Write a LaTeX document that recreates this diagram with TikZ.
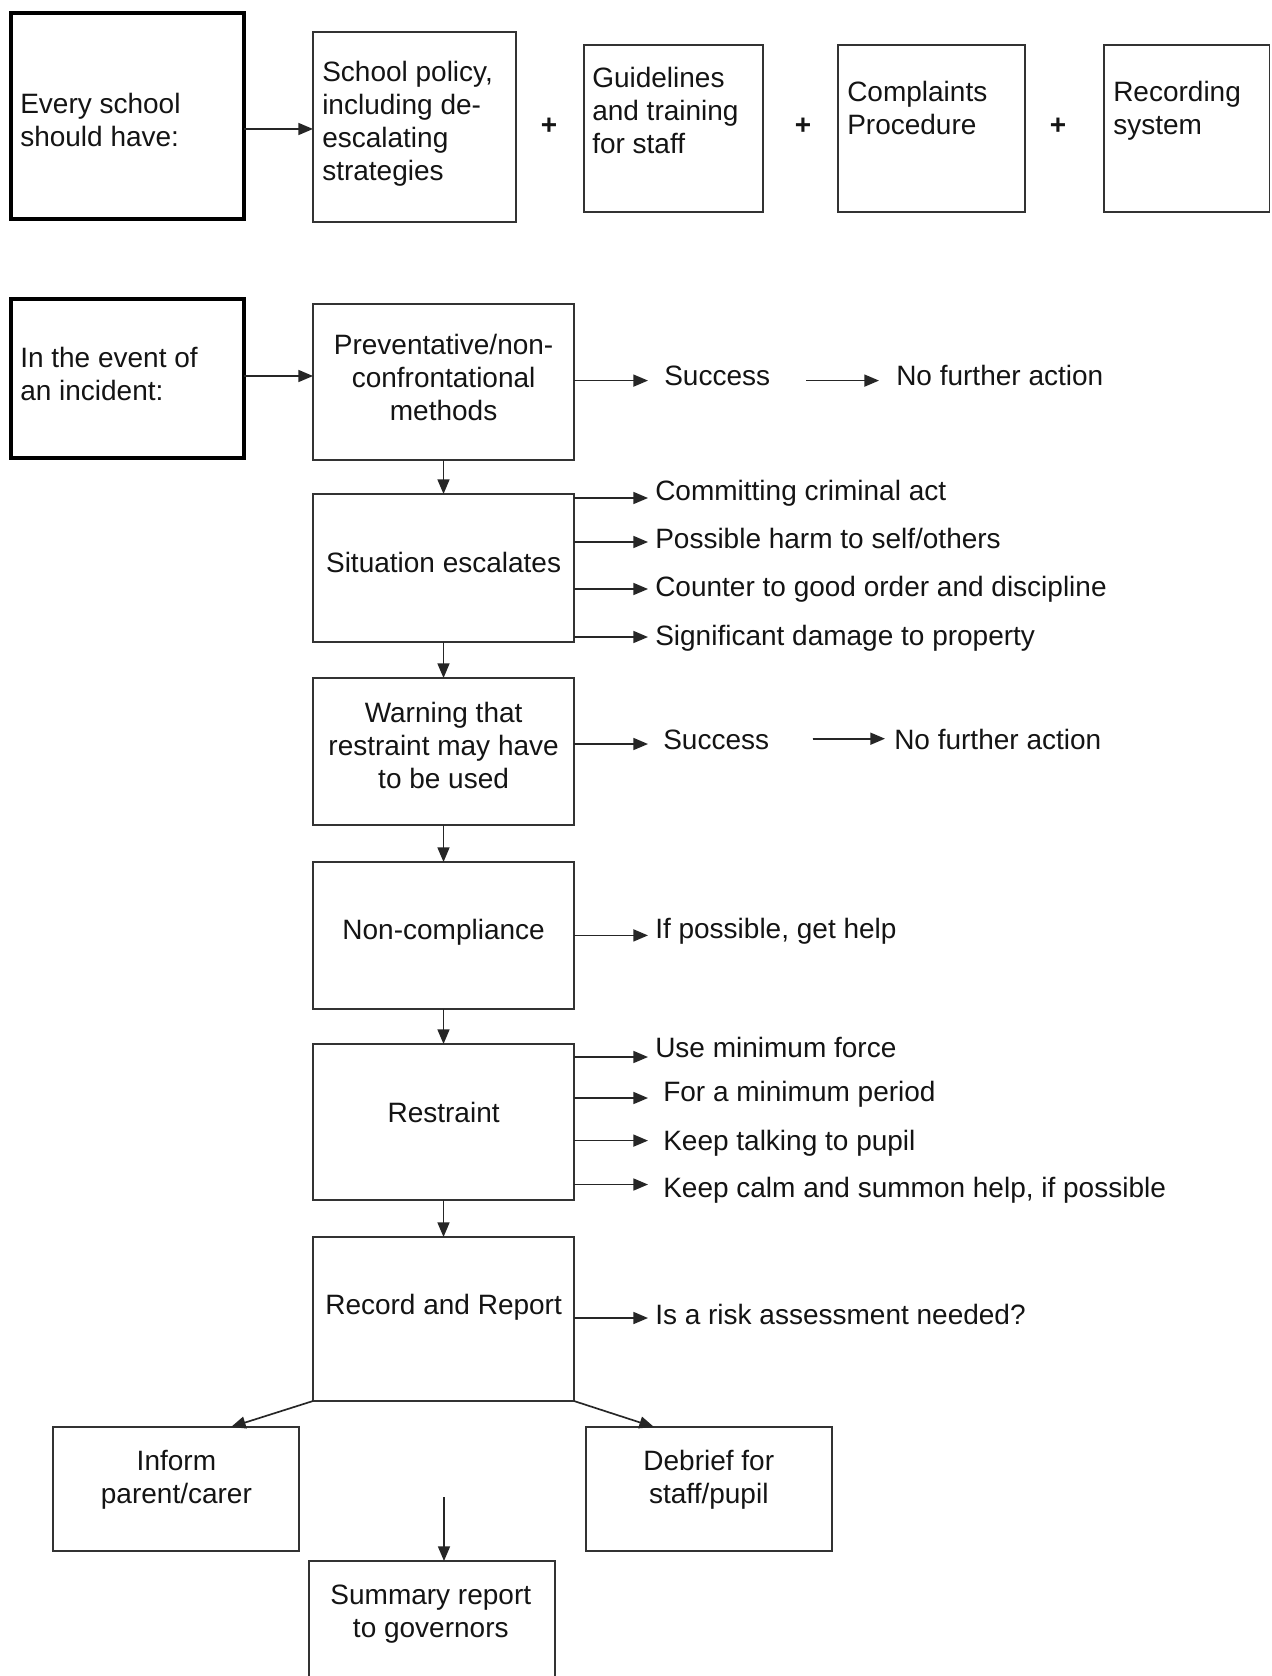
\documentclass[tikz,border=0pt]{standalone}
\usepackage{fontspec}
\setmainfont{Liberation Sans}
\usetikzlibrary{arrows.meta}
\newcommand{\lbfont}{\fontsize{21}{24.75}\selectfont}
\begin{document}
\begin{tikzpicture}[x=0.75pt,y=-0.75pt,
  box/.style={draw=black!80, line width=1.4pt, inner sep=0, outer sep=0},
  heavybox/.style={draw=black, line width=3pt, inner sep=0, outer sep=0},
  txt/.style={font=\lbfont, inner sep=0, text=black!92},
  arr/.style={-{Triangle[length=11pt,width=9pt]}, line width=1.25pt, draw=black!85, fill=black!85},
]
\clip (0,0) rectangle (1271,1676);
\fill[white] (0,0) rectangle (1271,1676);

% ---------- top row ----------
\node[heavybox, minimum width=175.1pt, minimum height=154.7pt] (es) at (127.25,115.85) {};
\node[txt, align=left, anchor=base west] (estxt) at (20,147) {Every school\\should have:};

\node[box, minimum width=152.25pt, minimum height=142.5pt] (sp) at (414.5,127) {};
\node[txt, align=left, anchor=base west] (sptxt) at (322,181) {School policy,\\including de-\\escalating\\strategies};

\node[box, minimum width=134.25pt, minimum height=125.25pt] (gt) at (673.5,128.5) {};
\node[txt, align=left, anchor=base west] (gttxt) at (592,154) {Guidelines\\and training\\for staff};

\node[box, minimum width=140.25pt, minimum height=125.25pt] (cp) at (931.5,128.5) {};
\node[txt, align=left, anchor=base west] (cptxt) at (847,135) {Complaints\\Procedure};

\node[box, minimum width=124.1pt, minimum height=125.25pt] (rs) at (1186.75,128.5) {};
\node[txt, align=left, anchor=base west] (rstxt) at (1113,135) {Recording\\system};

\node[txt, font=\lbfont\bfseries] (plus1) at (549,126) {+};
\node[txt, font=\lbfont\bfseries] (plus2) at (803,126) {+};
\node[txt, font=\lbfont\bfseries] (plus3) at (1058,126) {+};

\draw[arr] (es.east |- 0,129) -- (sp.west |- 0,129);

% ---------- incident column ----------
\node[heavybox, minimum width=175.1pt, minimum height=119.25pt] (ie) at (127.25,378.5) {};
\node[txt, align=left, anchor=base west] (ietxt) at (20,400) {In the event of\\an incident:};

\node[box, minimum width=195.75pt, minimum height=117pt] (pm) at (443.5,382) {};
\node[txt, align=center, anchor=base] (pmtxt) at (443.6,420) {Preventative/non-\\confrontational\\methods};

\node[box, minimum width=195.75pt, minimum height=111pt] (se) at (443.5,568) {};
\node[txt, anchor=base] (setxt) at (443.6,572) {Situation escalates};

\node[box, minimum width=195.75pt, minimum height=110.25pt] (wr) at (443.5,751.5) {};
\node[txt, align=center, anchor=base] (wrtxt) at (443.6,788) {Warning that\\restraint may have\\to be used};

\node[box, minimum width=195.75pt, minimum height=110.25pt] (nc) at (443.5,935.5) {};
\node[txt, anchor=base] (nctxt) at (443.6,939) {Non-compliance};

\node[box, minimum width=195.75pt, minimum height=117pt] (rt) at (443.5,1122) {};
\node[txt, anchor=base] (rttxt) at (443.6,1122) {Restraint};

\node[box, minimum width=195.75pt, minimum height=123pt] (rr) at (443.5,1319) {};
\node[txt, anchor=base] (rrtxt) at (443.6,1314) {Record and Report};

\node[box, minimum width=184.5pt, minimum height=93pt] (ip) at (176,1489) {};
\node[txt, align=center, anchor=base] (iptxt) at (176.4,1503) {Inform\\parent/carer};

\node[box, minimum width=184.5pt, minimum height=93pt] (db) at (709,1489) {};
\node[txt, align=center, anchor=base] (dbtxt) at (708.8,1503) {Debrief for\\staff/pupil};

\node[box, minimum width=184.5pt, minimum height=104.25pt] (sr) at (432,1630.5) {};
\node[txt, align=center, anchor=base] (srtxt) at (430.8,1637) {Summary report\\to governors};

\draw[arr] (ie.east |- 0,376) -- (pm.west |- 0,376);
\draw[arr] (pm.south) -- (se.north);
\draw[arr] (se.south) -- (wr.north);
\draw[arr] (wr.south) -- (nc.north);
\draw[arr] (nc.south) -- (rt.north);
\draw[arr] (rt.south) -- (rr.north);

% outcomes of preventative methods
\coordinate (a1) at (648,380.6);
\draw[arr] (pm.east |- a1) -- (a1);
\node[txt, anchor=base west] (suc1) at (664,385) {Success};
\coordinate (b1s) at (806,380.6);
\coordinate (b1e) at (879,380.6);
\draw[arr] (b1s) -- (b1e);
\node[txt, anchor=base west] (nfa1) at (896,385) {No further action};

% escalation reasons
\coordinate (e1) at (648,498);
\coordinate (e2) at (648,542);
\coordinate (e3) at (648,589);
\coordinate (e4) at (648,637);
\draw[arr] (se.east |- e1) -- (e1);
\draw[arr] (se.east |- e2) -- (e2);
\draw[arr] (se.east |- e3) -- (e3);
\draw[arr] (se.east |- e4) -- (e4);
\node[txt, anchor=base west] (l1) at (655,500) {Committing criminal act};
\node[txt, anchor=base west] (l2) at (655,548) {Possible harm to self/others};
\node[txt, anchor=base west] (l3) at (655,596) {Counter to good order and discipline};
\node[txt, anchor=base west] (l4) at (655,645) {Significant damage to property};

% warning outcome
\coordinate (a2) at (648,744);
\draw[arr] (wr.east |- a2) -- (a2);
\node[txt, anchor=base west] (suc2) at (663,749) {Success};
\coordinate (b2s) at (812.5,738.7);
\coordinate (b2e) at (885,738.7);
\draw[arr] (b2s) -- (b2e);
\node[txt, anchor=base west] (nfa2) at (894,749) {No further action};

% non-compliance
\coordinate (a3) at (648,935.4);
\draw[arr] (nc.east |- a3) -- (a3);
\node[txt, anchor=base west] (help) at (655,938) {If possible, get help};

% restraint rules
\coordinate (r1) at (648,1057);
\coordinate (r2) at (648,1098);
\coordinate (r3) at (648,1140.6);
\coordinate (r4) at (648,1184.5);
\draw[arr] (rt.east |- r1) -- (r1);
\draw[arr] (rt.east |- r2) -- (r2);
\draw[arr] (rt.east |- r3) -- (r3);
\draw[arr] (rt.east |- r4) -- (r4);
\node[txt, anchor=base west] (m1) at (655,1057) {Use minimum force};
\node[txt, anchor=base west] (m2) at (663,1101) {For a minimum period};
\node[txt, anchor=base west] (m3) at (663,1150) {Keep talking to pupil};
\node[txt, anchor=base west] (m4) at (663,1197) {Keep calm and summon help, if possible};

% record and report
\coordinate (a4) at (648,1318);
\draw[arr] (rr.east |- a4) -- (a4);
\node[txt, anchor=base west] (risk) at (655,1324) {Is a risk assessment needed?};

\coordinate (ipin) at (231,1427);
\coordinate (dbin) at (654,1427);
\draw[arr] (rr.south west) -- (ipin);
\draw[arr] (rr.south east) -- (dbin);

\coordinate (gap) at (444,1497);
\draw[arr] (gap) -- (gap |- sr.north);
\end{tikzpicture}
\end{document}
